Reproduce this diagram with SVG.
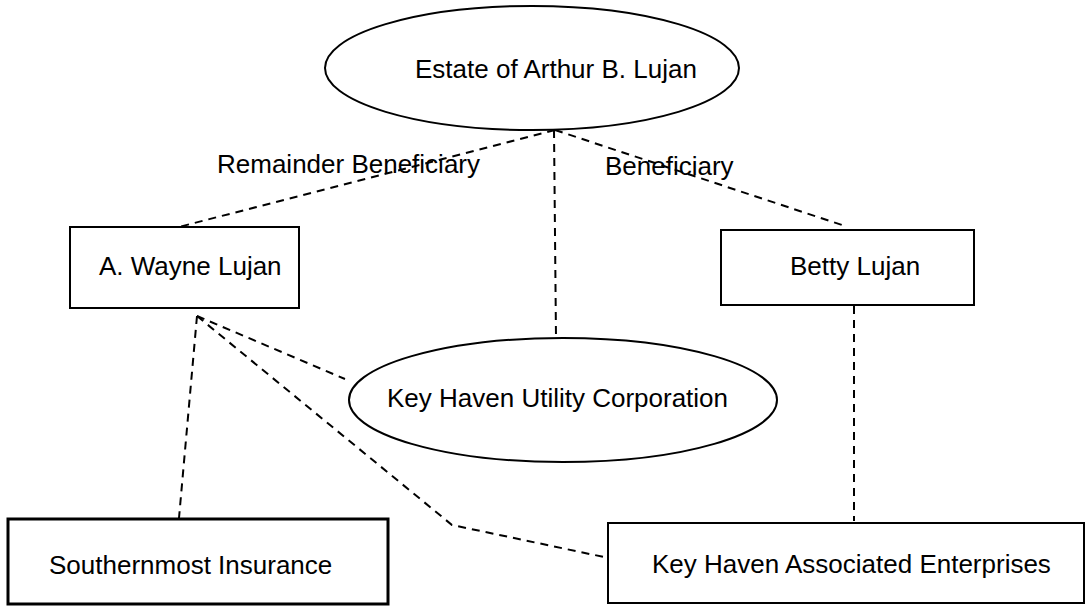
<svg xmlns="http://www.w3.org/2000/svg" width="1086" height="606" viewBox="0 0 1086 606">
<style>
.node{fill:#fff;stroke:#000;stroke-width:2}
.thick{stroke-width:3}
.lbl{font-family:"Liberation Sans",Arial,sans-serif;font-size:26px;fill:#000}
.conn{fill:none;stroke:#000;stroke-width:2;stroke-dasharray:8 6}
</style>
<rect width="1086" height="606" fill="#fff"/>
<g id="connectors">
<line class="conn" x1="555" y1="130" x2="175" y2="228"/>
<line class="conn" x1="555" y1="130" x2="845" y2="226"/>
<line class="conn" x1="554" y1="130" x2="556" y2="338"/>
<line class="conn" x1="854" y1="306" x2="854" y2="521"/>
<line class="conn" x1="197" y1="316" x2="345" y2="379"/>
<line class="conn" x1="197" y1="316" x2="179" y2="518"/>
<polyline class="conn" points="197,316 452,525 604,557"/>
</g>
<g id="estate">
<ellipse class="node" cx="532" cy="68" rx="207" ry="62"/>
<text class="lbl" x="415" y="78">Estate of Arthur B. Lujan</text>
</g>
<g id="label-remainder">
<text class="lbl" x="217" y="173">Remainder Beneficiary</text>
</g>
<g id="label-beneficiary">
<text class="lbl" x="605" y="175">Beneficiary</text>
</g>
<g id="wayne">
<rect class="node" x="70" y="227" width="229" height="81"/>
<text class="lbl" x="99" y="275">A. Wayne Lujan</text>
</g>
<g id="betty">
<rect class="node" x="721" y="230" width="253" height="75"/>
<text class="lbl" x="790" y="275">Betty Lujan</text>
</g>
<g id="utility">
<ellipse class="node" cx="563" cy="400" rx="214" ry="62"/>
<text class="lbl" x="387" y="407">Key Haven Utility Corporation</text>
</g>
<g id="southernmost">
<rect class="node thick" x="8" y="519" width="380" height="85"/>
<text class="lbl" x="49" y="574">Southernmost Insurance</text>
</g>
<g id="associated">
<rect class="node" x="608" y="523" width="476" height="80"/>
<text class="lbl" x="652" y="573">Key Haven Associated Enterprises</text>
</g>
</svg>
